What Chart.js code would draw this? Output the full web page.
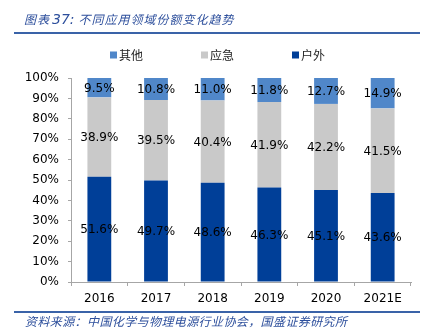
<!DOCTYPE html>
<html>
<head>
<meta charset="utf-8">
<script src="https://cdn.jsdelivr.net/npm/chart.js@4/dist/chart.umd.min.js"></script>
<style>
  html, body { margin: 0; padding: 0; background: #fff; }
  #wrap { position: relative; width: 427px; height: 334px; overflow: hidden; }
  #chart { position: absolute; left: 0; top: 0; }
  .title {
    position: absolute; left: 24px; top: 11px;
    font: italic 12px "Noto Sans CJK SC", sans-serif; color: #2d4f9c;
    line-height: 16px; white-space: nowrap; letter-spacing: 1px;
  }
  .title b { font: italic 14px "DejaVu Sans", sans-serif; font-weight: normal; letter-spacing: 0; margin: 0 4px 0 2px; }
  .rule { position: absolute; left: 14px; width: 406px; height: 2px; background: #3a63a8; }
  .source {
    position: absolute; left: 25px; top: 312px;
    font: italic 12px "Noto Sans CJK SC", sans-serif; color: #2d4f9c;
    letter-spacing: 0.4px; white-space: nowrap;
  }
</style>
</head>
<body>
<div id="wrap">
  <canvas id="chart" width="427" height="334"></canvas>
  <div class="title">图表<b>37:</b>不同应用领域份额变化趋势</div>
  <div class="rule" style="top:32px"></div>
  <div class="rule" style="top:311px"></div>
  <div class="source">资料来源：中国化学与物理电源行业协会，国盛证券研究所</div>
</div>
<script>
const years = ["2016", "2017", "2018", "2019", "2020", "2021E"];
const outdoor = [51.6, 49.7, 48.6, 46.3, 45.1, 43.6];   // 户外
const emergency = [38.9, 39.5, 40.4, 41.9, 42.2, 41.5]; // 应急
const others = [9.5, 10.8, 11.0, 11.8, 12.7, 14.9];     // 其他

Chart.defaults.font.family = "DejaVu Sans";
Chart.defaults.color = "#000";

// values printed in the middle of each stacked segment
const segmentLabels = {
  id: "segmentLabels",
  afterDatasetsDraw(chart) {
    const ctx = chart.ctx;
    ctx.save();
    ctx.font = "12px 'DejaVu Sans'";
    ctx.fillStyle = "#000";
    ctx.textAlign = "center";
    ctx.textBaseline = "middle";
    chart.data.datasets.forEach((ds, i) => {
      chart.getDatasetMeta(i).data.forEach((bar, j) => {
        const p = bar.getCenterPoint();
        ctx.fillText(ds.data[j].toFixed(1) + "%", p.x, p.y + 1);
      });
    });
    ctx.restore();
  }
};

// legend row, top series first
const legendRow = {
  id: "legendRow",
  afterDraw(chart) {
    const ctx = chart.ctx;
    const items = chart.data.datasets.slice().reverse();
    ctx.save();
    ctx.font = "12px 'Noto Sans CJK SC'";
    ctx.textBaseline = "middle";
    items.forEach((ds, i) => {
      const x = 110 + i * 91;
      ctx.fillStyle = ds.backgroundColor;
      ctx.fillRect(x, 51.5, 7, 7);
      ctx.fillStyle = "#222";
      ctx.fillText(ds.label, x + 9, 55);
    });
    ctx.restore();
  }
};

new Chart(document.getElementById("chart"), {
  type: "bar",
  data: {
    labels: years,
    datasets: [
      { label: "户外", data: outdoor, backgroundColor: "#003f98" },
      { label: "应急", data: emergency, backgroundColor: "#c9c9c9" },
      { label: "其他", data: others, backgroundColor: "#5087c9" }
    ]
  },
  options: {
    responsive: false,
    animation: false,
    layout: { padding: { top: 78, right: 16, left: 0, bottom: 0 } },
    datasets: { bar: { barPercentage: 0.42, categoryPercentage: 1, borderWidth: 0 } },
    plugins: { legend: { display: false }, tooltip: { enabled: false } },
    scales: {
      x: {
        stacked: true,
        afterFit(s) { s.height = 52; },
        border: { color: "#a6a6a6" },
        grid: { drawOnChartArea: false, color: "#a6a6a6", tickLength: 4, offset: true },
        ticks: { padding: 6, font: { size: 12 }, color: "#000" }
      },
      y: {
        stacked: true,
        min: 0,
        max: 100,
        afterFit(s) { s.width = 71; },
        border: { color: "#a6a6a6" },
        grid: { drawOnChartArea: false, color: "#a6a6a6", tickLength: 3 },
        ticks: { stepSize: 10, padding: 9, font: { size: 12 }, color: "#000",
          callback: v => v + "%" }
      }
    }
  },
  plugins: [segmentLabels, legendRow]
});
</script>
</body>
</html>
